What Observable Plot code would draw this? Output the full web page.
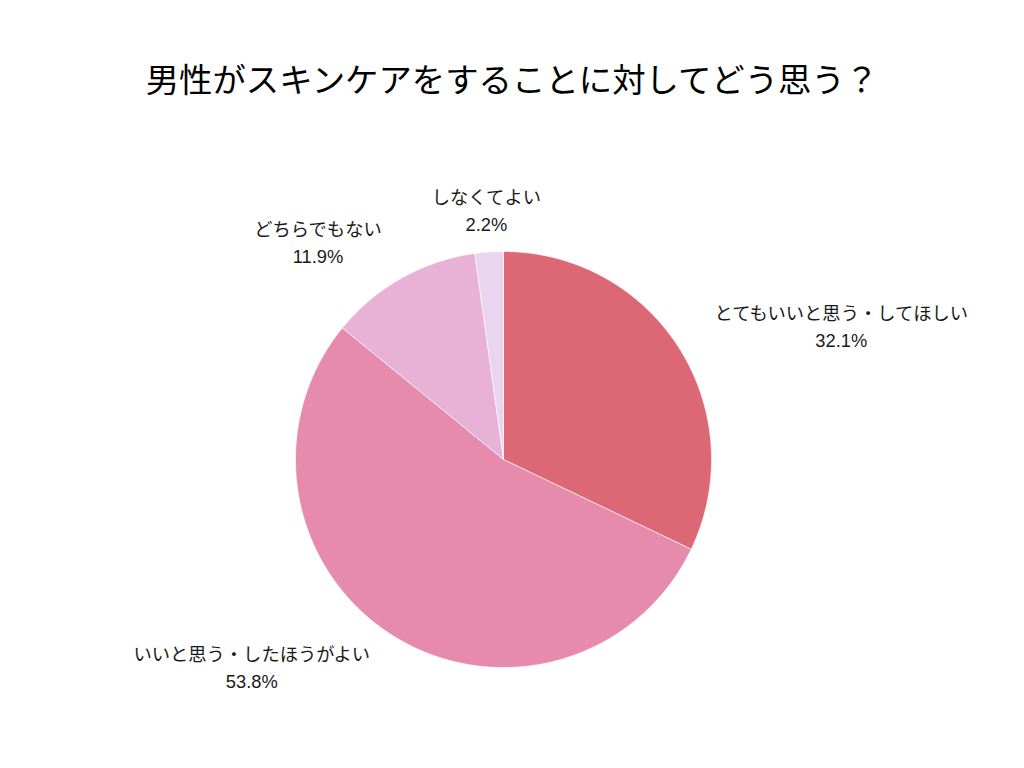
<!DOCTYPE html>
<html>
<head>
<meta charset="utf-8">
<script src="https://cdn.jsdelivr.net/npm/d3@7"></script>
<script src="https://cdn.jsdelivr.net/npm/@observablehq/plot@0.6"></script>
<style>
  html, body { margin: 0; padding: 0; background: #ffffff; }
  #wrap { position: relative; width: 1024px; height: 768px; overflow: hidden; }
  #title {
    position: absolute; left: 0; top: 61px; width: 1024px; text-align: center;
    font-family: "Noto Sans CJK JP", sans-serif; font-size: 33.4px; line-height: 34px;
    color: #000000;
  }
  #chart { position: absolute; left: 0; top: 120px; }
</style>
</head>
<body>
<div id="wrap">
  <div id="title">男性がスキンケアをすることに対してどう思う？</div>
  <div id="chart"></div>
</div>
<script>
// ---- data ----
const categories = [
  "とてもいいと思う・してほしい",
  "いいと思う・したほうがよい",
  "どちらでもない",
  "しなくてよい"
];
const percentages = [32.1, 53.8, 11.9, 2.2];
const sliceColors = ["#dd6875", "#e78bac", "#e8b1d6", "#e9d5f0"];

// ---- layout constants ----
const W = 1024, H = 648;
const CX = 503, CY = 339;     // pie centre in svg pixels
const R = 208;                // pie radius
const LABEL_R = 248;          // label radius
const FONT_SIZE = 18.3;
const FONT_FAMILY = "'Liberation Sans', 'Noto Sans CJK JP', sans-serif";
const LINE_GAP = 13.5;        // half distance between the two label lines

const pie = d3.pie().sort(null).value(d => d.value).startAngle(0).endAngle(2 * Math.PI);
const table = categories.map((c, i) => ({label: c, value: percentages[i], color: sliceColors[i]}));
const arcs = pie(table);

// polygon points for each slice (angle measured clockwise from 12 o'clock)
const pts = [];
arcs.forEach(a => {
  const n = Math.max(8, Math.ceil((a.endAngle - a.startAngle) / (Math.PI / 180) * 2));
  pts.push({label: a.data.label, color: a.data.color, x: 0, y: 0});
  for (let k = 0; k <= n; k++) {
    const t = a.startAngle + (a.endAngle - a.startAngle) * k / n;
    pts.push({label: a.data.label, color: a.data.color, x: R * Math.sin(t), y: R * Math.cos(t)});
  }
  pts.push({label: a.data.label, color: a.data.color, x: 0, y: 0});
});

// text measuring for centred label blocks
const ctx = document.createElement("canvas").getContext("2d");
ctx.font = `${FONT_SIZE}px ${FONT_FAMILY}`;
const measure = s => ctx.measureText(s).width;

// labels: block anchored at LABEL_R along the slice mid angle, lines centred within the block
const labelLines = [];
arcs.forEach(a => {
  const m = (a.startAngle + a.endAngle) / 2;
  const s = Math.sin(m);
  const ax = LABEL_R * s, ay = LABEL_R * Math.cos(m);
  const line1 = a.data.label;
  const line2 = a.data.value.toFixed(1) + "%";
  const w = Math.max(measure(line1), measure(line2));
  let cx = ax;
  if (Math.abs(s) >= 0.2) cx = s > 0 ? ax + w / 2 : ax - w / 2;
  labelLines.push({text: line1, x: cx, y: ay + LINE_GAP});
  labelLines.push({text: line2, x: cx, y: ay - LINE_GAP});
});

const chart = Plot.plot({
  width: W,
  height: H,
  margin: 0,
  style: {background: "#ffffff", fontFamily: FONT_FAMILY},
  x: {domain: [-CX, W - CX], axis: null},
  y: {domain: [-(H - CY), CY], axis: null},
  marks: [
    Plot.line(pts, {
      x: "x", y: "y", z: "label",
      fill: d => d.color,
      stroke: "#ffffff",
      strokeWidth: 1,
      strokeOpacity: 0.6,
      curve: "linear"
    }),
    Plot.text(labelLines, {
      x: "x", y: "y", text: "text",
      textAnchor: "middle",
      fontSize: FONT_SIZE,
      fontFamily: FONT_FAMILY,
      fill: "#1a1a1a"
    })
  ]
});
document.getElementById("chart").appendChild(chart);
</script>
</body>
</html>
